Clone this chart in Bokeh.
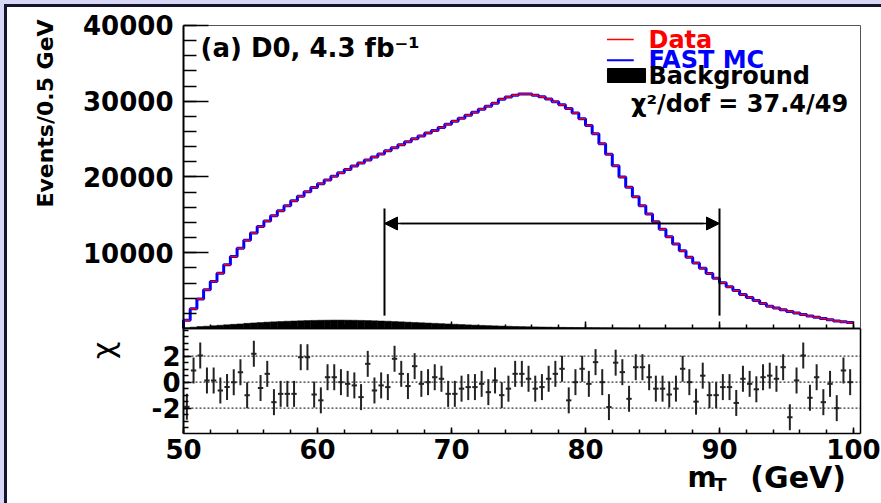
import math
import numpy as np
from bokeh.plotting import figure
from bokeh.layouts import column, row
from bokeh.models import (Spacer, FixedTicker, Arrow, NormalHead, Label,
                          LinearAxis, Range1d)
from bokeh.embed import file_html
from bokeh.resources import INLINE

# ---------------- data ----------------
bin_start = 50.0
bin_width = 0.5

data_counts = [
    1100, 2600, 3900, 5100, 6200, 7300, 8400, 9500, 10600, 11650,
    12600, 13450, 14200, 14900, 15550, 16200, 16850, 17450, 18050, 18600,
    19100, 19600, 20100, 20550, 21000, 21450, 21850, 22250, 22650, 23050,
    23450, 23850, 24250, 24650, 25050, 25400, 25800, 26150, 26550, 26950,
    27350, 27750, 28150, 28550, 28950, 29350, 29750, 30250, 30550, 30800,
    30950, 30950, 30800, 30600, 30300, 29950, 29550, 29050, 28450, 27700,
    26800, 25700, 24400, 23000, 21500, 20000, 18650, 17400, 16200, 15100,
    14100, 13100, 12100, 11150, 10250, 9400, 8650, 7950, 7250, 6650,
    6050, 5500, 5000, 4500, 4100, 3700, 3300, 2950, 2700, 2480,
    2260, 2050, 1850, 1650, 1480, 1320, 1150, 990, 880, 780,
]
fast_mc_counts = data_counts

background_counts = [
    100, 180, 250, 310, 370, 430, 490, 550, 610, 680,
    740, 790, 840, 880, 920, 960, 990, 1020, 1050, 1070,
    1090, 1100, 1110, 1110, 1100, 1090, 1070, 1050, 1020, 990,
    960, 920, 880, 840, 800, 760, 720, 680, 640, 600,
    560, 520, 480, 445, 410, 380, 350, 320, 295, 270,
    250, 230, 210, 195, 180, 165, 150, 140, 130, 120,
    110, 100, 92, 85, 78, 72, 66, 61, 56, 52,
    48, 44, 41, 38, 35, 33, 31, 29, 27, 25,
    23, 22, 21, 20, 19, 18, 17, 16, 15, 14,
    13, 12, 12, 11, 11, 10, 10, 9, 9, 8,
]

chi_values = [
    -1.9, 0.9, 2.05, 0.13, 0.13, -0.64, -0.38, 0.0, 0.77, -1.0,
    2.18, -0.45, 0.64, -1.54, -0.9, -0.9, -0.9, 1.92, 1.92, -0.95,
    -1.4, 0.38, 0.38, 0.0, -0.13, -0.25, -1.15, 1.41, -0.64, -0.25,
    -0.38, 1.8, 0.64, -0.3, 1.23, -0.13, 0.0, 0.38, 0.26, -0.9,
    -0.9, -0.5, -0.38, -0.38, -0.13, -0.77, 0.13, -1.0, -0.5, 0.64,
    0.64, 0.26, -0.5, -0.38, 0.26, 0.64, 1.03, -1.4, 0.0, 1.03,
    -0.13, 1.54, 0.0, -1.92, 1.5, 0.77, -1.28, 1.15, 1.15, 0.38,
    -0.5, -0.5, -0.95, -0.5, 1.03, 0.0, -1.5, 0.5, -1.0, -1.0,
    -0.38, -0.38, -1.6, 0.26, -0.13, -0.55, 0.38, 0.5, 0.26, 1.15,
    -2.7, 0.13, 2.05, -1.2, 0.38, -1.54, -0.13, -2.0, 0.9, 0.0,
]

x_major_ticks = [50, 60, 70, 80, 90, 100]
events_major_ticks = [10000, 20000, 30000, 40000]
chi_major_ticks = [-2, 0, 2]
fit_window = [65, 90]
legend_labels = ["Data", "FAST MC", "Background"]
title_text = "(a) D0, 4.3 fb\u207b\u00b9"
chi2_text = "\u03c7\u00b2/dof = 37.4/49"

# ---------------- styles / geometry ----------------
FONT = "DejaVu Sans"
LAV = "#d8d8f6"
DARK = "#15152e"
RED = "#ff0000"
BLUE = "#0000ff"
X_LO, X_HI = 50.0, 100.5          # frame of both panels
EV_LO, EV_HI = 0, 40000           # upper panel
CHI_LO, CHI_HI = -3.95, 4.13      # lower panel

n = len(data_counts)
left = np.array([bin_start + bin_width * i for i in range(n)])
right = left + bin_width
center = left + bin_width / 2
chi = np.array(chi_values)

p = figure(width=874, height=496,
           x_range=Range1d(36.866, 102.09), y_range=Range1d(-23102.3, 42376.2),
           x_axis_location=None, y_axis_location=None,
           output_backend="svg", toolbar_location=None, min_border=0)
p.extra_y_ranges = {"chi": Range1d(-9.337, 28.83)}
p.outline_line_color = None
p.background_fill_color = "white"
p.border_fill_color = "white"
p.grid.grid_line_color = None
p.grid.visible = False


def style_axis(ax, size="26px", standoff=6, color="black", width=1.5):
    ax.major_label_text_font = FONT
    ax.major_label_text_font_size = size
    ax.major_label_text_font_style = "bold"
    ax.major_label_text_color = "black"
    ax.major_label_standoff = standoff
    ax.major_tick_out = 0
    ax.minor_tick_out = 0
    ax.axis_line_color = color
    ax.axis_line_width = width
    ax.major_tick_line_color = "black"
    ax.minor_tick_line_color = "black"
    ax.major_tick_line_width = 1.5
    ax.minor_tick_line_width = 1.5


# events axis (upper panel)
ev_axis = LinearAxis(fixed_location=X_LO, bounds=(EV_LO, EV_HI),
                     ticker=FixedTicker(ticks=events_major_ticks,
                                        minor_ticks=list(range(2000, 40001, 2000))))
style_axis(ev_axis, "26px", 10, width=2)
ev_axis.major_tick_in = 25
ev_axis.minor_tick_in = 13
p.add_layout(ev_axis, "left")

# chi axis (lower panel)
chi_axis = LinearAxis(y_range_name="chi", fixed_location=X_LO, bounds=(CHI_LO, CHI_HI),
                      ticker=FixedTicker(ticks=chi_major_ticks,
                                         minor_ticks=[v / 2 for v in range(-7, 9)]),
                      major_label_overrides={-2: "-2"})
style_axis(chi_axis, "26px", 3, width=2)
chi_axis.major_tick_in = 8
chi_axis.minor_tick_in = 5
p.add_layout(chi_axis, "left")

# x axis between the panels (ticks only)
mid_minor = LinearAxis(fixed_location=EV_LO, bounds=(X_LO, X_HI),
                       ticker=FixedTicker(ticks=[], minor_ticks=list(range(50, 101, 2))))
style_axis(mid_minor)
mid_minor.minor_tick_in = 4
p.add_layout(mid_minor, "below")
mid_major = LinearAxis(fixed_location=EV_LO, bounds=(X_LO, X_HI),
                       ticker=FixedTicker(ticks=[], minor_ticks=x_major_ticks))
style_axis(mid_major)
mid_major.minor_tick_in = 7
p.add_layout(mid_major, "below")

# bottom x axis with labels
chi_x = LinearAxis(y_range_name="chi", fixed_location=CHI_LO, bounds=(X_LO, X_HI),
                   ticker=FixedTicker(ticks=x_major_ticks,
                                      minor_ticks=list(range(50, 101, 2))))
style_axis(chi_x, "26px", 6)
chi_x.major_tick_in = 6
chi_x.minor_tick_in = 4
p.add_layout(chi_x, "below")

# frame lines (top and right)
top_line = LinearAxis(fixed_location=EV_HI, bounds=(X_LO, X_HI), ticker=FixedTicker(ticks=[]))
style_axis(top_line, color="#555555", width=1)
p.add_layout(top_line, "above")
right_line = LinearAxis(fixed_location=X_HI, bounds=(EV_LO, EV_HI), ticker=FixedTicker(ticks=[]))
style_axis(right_line, color="#555555", width=1)
p.add_layout(right_line, "right")
right_chi = LinearAxis(y_range_name="chi", fixed_location=X_HI, bounds=(CHI_LO, CHI_HI),
                       ticker=FixedTicker(ticks=[]))
style_axis(right_chi, color="black", width=1.5)
p.add_layout(right_chi, "right")

# ---------------- upper panel content ----------------
p.quad(left=left, right=right, bottom=0, top=background_counts,
       fill_color="black", line_color="black", line_width=0.5)
step_x = [bin_start] + list(left) + [right[-1]]
step_y = [0] + list(fast_mc_counts) + [fast_mc_counts[-1]]
p.step(x=step_x, y=step_y, mode="after", line_color=BLUE, line_width=3)
p.segment(x0=left, y0=data_counts, x1=right, y1=data_counts,
          line_color=RED, line_width=1.5)

arrow_y = 13860
p.segment(x0=fit_window, y0=[1700, 1700], x1=fit_window, y1=[15850, 15850],
          line_color="black", line_width=2)
for a, b in [(fit_window[0] + 1.2, fit_window[1]), (fit_window[1] - 1.2, fit_window[0])]:
    p.add_layout(Arrow(x_start=a, y_start=arrow_y, x_end=b, y_end=arrow_y,
                       line_color="black", line_width=1.5,
                       end=NormalHead(size=13, fill_color="black", line_color="black")))

# legend (custom, coloured texts)
p.segment(x0=[81.6], y0=[38150], x1=[83.6], y1=[38150], line_color=RED, line_width=1.5)
p.segment(x0=[81.6], y0=[35400], x1=[83.6], y1=[35400], line_color=BLUE, line_width=2)
p.quad(left=[81.64], right=[84.48], bottom=[32475], top=[34323],
       fill_color="black", line_color="black")
for txt, yy, col in zip(legend_labels, [38150, 35400, 33300], [RED, BLUE, "black"]):
    p.add_layout(Label(x=84.7, y=yy, text=txt, text_color=col,
                       text_font=FONT, text_font_size="24px", text_font_style="bold",
                       text_baseline="middle", text_align="left"))
p.add_layout(Label(x=99.6, y=29700, text=chi2_text, text_color="black",
                   text_font=FONT, text_font_size="24px", text_font_style="bold",
                   text_baseline="middle", text_align="right"))
p.add_layout(Label(x=51.27, y=37000, text=title_text, text_color="black",
                   text_font=FONT, text_font_size="26px", text_font_style="bold",
                   text_baseline="middle", text_align="left"))
p.add_layout(Label(x=39.7, y=28383, text="Events/0.5 GeV", angle=math.pi / 2,
                   text_color="black", text_font=FONT, text_font_size="22px",
                   text_font_style="bold", text_baseline="middle", text_align="center"))

# ---------------- lower panel content ----------------
n_lines = len(chi_major_ticks)
p.segment(x0=[X_LO] * n_lines, y0=chi_major_ticks, x1=[X_HI] * n_lines, y1=chi_major_ticks,
          y_range_name="chi", line_color="#333333", line_width=1.3, line_dash="2 2")
p.segment(x0=center, y0=chi - 1, x1=center, y1=chi + 1, y_range_name="chi",
          line_color="#222222", line_width=2)
p.segment(x0=center - 0.2, y0=chi, x1=center + 0.2, y1=chi, y_range_name="chi",
          line_color="#222222", line_width=2)

p.add_layout(Label(x=44.03, y=2.44, y_range_name="chi", text="\u03c7", angle=math.pi / 2,
                   text_color="black", text_font=FONT, text_font_size="30px",
                   text_baseline="middle", text_align="center"))
p.add_layout(Label(x=87.61, y=-7.3, y_range_name="chi", text="m", text_color="black",
                   text_font=FONT, text_font_size="28px", text_font_style="bold",
                   text_baseline="alphabetic", text_align="left"))
p.add_layout(Label(x=89.6, y=-7.85, y_range_name="chi", text="T", text_color="black",
                   text_font=FONT, text_font_size="18px", text_font_style="bold",
                   text_baseline="alphabetic", text_align="left"))
p.add_layout(Label(x=92.3, y=-7.3, y_range_name="chi", text="(GeV)", text_color="black",
                   text_font=FONT, text_font_size="30px", text_font_style="bold",
                   text_baseline="alphabetic", text_align="left"))


# ---------------- page frame ----------------
def band(w, h, c):
    return Spacer(width=w, height=h, styles={"background-color": c})


framed = column(band(877, 3, DARK), row(band(3, 496, DARK), p))
root = column(band(881, 4, LAV), row(band(4, 499, LAV), framed))

open("out.html", "w").write(file_html(root, INLINE))
